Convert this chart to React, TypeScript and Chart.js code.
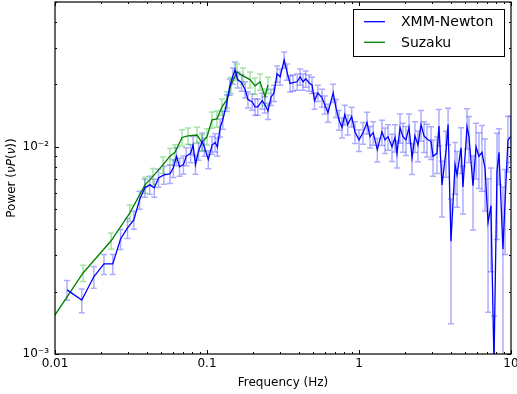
import React, { useEffect, useRef } from 'react';
import { Chart, registerables } from 'chart.js';

Chart.register(...registerables);

const FONT = "'DejaVu Sans', sans-serif";

// ---------- XMM-Newton ----------
const xmmFreq = [
  0.012, 0.015, 0.018, 0.021, 0.024, 0.027, 0.030, 0.033, 0.036, 0.039,
  0.042, 0.045, 0.048, 0.052, 0.057, 0.060, 0.063, 0.066, 0.070, 0.073,
  0.078, 0.081, 0.084, 0.088, 0.093, 0.096, 0.102, 0.108, 0.113, 0.117,
  0.122, 0.127, 0.135, 0.141, 0.148, 0.153, 0.159, 0.169, 0.178, 0.186,
  0.198, 0.207, 0.216, 0.231, 0.240, 0.252, 0.264, 0.276, 0.289, 0.303,
  0.322, 0.336, 0.352, 0.368, 0.392, 0.410, 0.428, 0.446, 0.469, 0.491,
  0.510, 0.536, 0.571, 0.595, 0.625, 0.676, 0.706, 0.738, 0.773, 0.806,
  0.843, 0.895, 0.941, 1.00, 1.062, 1.129, 1.181, 1.24, 1.32, 1.416,
  1.483, 1.552, 1.648, 1.726, 1.778, 1.862, 1.946, 2.038, 2.133, 2.233,
  2.334, 2.444, 2.559, 2.679, 2.801, 2.978, 3.069, 3.26, 3.357, 3.515,
  3.734, 3.855, 4.027, 4.285, 4.416, 4.69, 4.83, 5.137, 5.292, 5.623,
  5.888, 6.152, 6.442, 6.745, 7.063, 7.38, 7.727, 8.09, 8.337, 8.85,
  9.134, 9.55, 9.95,
];
const xmmPower = [
  0.00204, 0.00182, 0.00236, 0.00272, 0.00272, 0.00359, 0.00406, 0.00444, 0.00555, 0.00634,
  0.00655, 0.00634, 0.00708, 0.00732, 0.0074, 0.0079, 0.0090, 0.0080, 0.0082, 0.0090,
  0.0093, 0.0102, 0.0082, 0.00957, 0.0106, 0.0100, 0.0087, 0.0102, 0.0105, 0.0100,
  0.0124, 0.0135, 0.0163, 0.0195, 0.0220, 0.02355, 0.0211, 0.0204, 0.0189, 0.0169,
  0.0165, 0.0156, 0.0156, 0.0167, 0.0160, 0.0149, 0.0174, 0.0182, 0.0225, 0.0218,
  0.0263, 0.0230, 0.0202, 0.0204, 0.0206, 0.0218, 0.0206, 0.0213, 0.0204, 0.0199,
  0.0167, 0.0182, 0.01725, 0.0160, 0.0146, 0.0182, 0.0154, 0.0135, 0.0124, 0.0143,
  0.0128, 0.0140, 0.0118, 0.0108, 0.0117, 0.0131, 0.0112, 0.0117, 0.0097, 0.0118,
  0.0108, 0.0112, 0.0100, 0.0111, 0.0093, 0.0124, 0.0112, 0.0108, 0.0124, 0.00885,
  0.0113, 0.0102, 0.0128, 0.0113, 0.0109, 0.0106, 0.0090, 0.0093, 0.0126, 0.00655,
  0.0095, 0.0128, 0.0035, 0.0082, 0.0073, 0.0099, 0.0064, 0.0125, 0.0112, 0.0065,
  0.0100, 0.0090, 0.0094, 0.0079, 0.0043, 0.0052, 0.0009, 0.0076, 0.0094, 0.0032,
  0.0054, 0.0108, 0.0112,
];
const xmmRelErr = [
  0.11, 0.13, 0.12, 0.11, 0.11, 0.11, 0.11, 0.10, 0.10, 0.10,
  0.10, 0.10, 0.10, 0.10, 0.10, 0.10, 0.10, 0.10, 0.10, 0.10,
  0.10, 0.10, 0.10, 0.10, 0.10, 0.10, 0.10, 0.10, 0.10, 0.10,
  0.10, 0.10, 0.09, 0.09, 0.09, 0.09, 0.09, 0.09, 0.09, 0.09,
  0.09, 0.09, 0.09, 0.09, 0.09, 0.09, 0.09, 0.09, 0.09, 0.09,
  0.09, 0.09, 0.09, 0.09, 0.09, 0.09, 0.09, 0.09, 0.09, 0.09,
  0.09, 0.09, 0.10, 0.10, 0.10, 0.10, 0.10, 0.11, 0.11, 0.11,
  0.11, 0.11, 0.12, 0.12, 0.12, 0.12, 0.12, 0.13, 0.13, 0.14,
  0.14, 0.14, 0.15, 0.15, 0.15, 0.16, 0.16, 0.16, 0.16, 0.17,
  0.17, 0.17, 0.17, 0.17, 0.18, 0.18, 0.20, 0.20, 0.20, 0.30,
  0.25, 0.20, 0.60, 0.28, 0.30, 0.25, 0.26, 0.22, 0.25, 0.39,
  0.30, 0.30, 0.35, 0.38, 0.63, 0.52, 0.70, 0.53, 0.30, 1.00,
  0.44, 0.30, 0.25,
];

// ---------- Suzaku ----------
const suzFreq = [
  0.0088, 0.0153, 0.0234, 0.0311, 0.0391, 0.0441, 0.0514, 0.0571, 0.0616, 0.0685,
  0.0750, 0.0859, 0.0927, 0.100, 0.108, 0.1163, 0.1255, 0.1354, 0.1438, 0.1574,
  0.1725, 0.1919, 0.207, 0.2233, 0.2409, 0.2518,
];
const suzPower = [
  0.00134, 0.00246, 0.00352, 0.00480, 0.00655, 0.0072, 0.0082, 0.0090, 0.0094, 0.0111,
  0.0113, 0.0114, 0.0105, 0.0112, 0.0135, 0.01365, 0.0156, 0.0169, 0.0199, 0.0230,
  0.0220, 0.0211, 0.0197, 0.0206, 0.0174, 0.0199,
];
const suzRelErr = [
  0.09, 0.09, 0.09, 0.09, 0.09, 0.09, 0.09, 0.09, 0.09, 0.09,
  0.09, 0.09, 0.09, 0.09, 0.09, 0.09, 0.09, 0.09, 0.09, 0.09,
  0.09, 0.09, 0.09, 0.09, 0.09, 0.09,
];

// ---------- axes ----------
const xTickValues = [0.01, 0.1, 1, 10];
const xTickLabels = ['0.01', '0.1', '1', '10'];
const yTickValues = [0.001, 0.01];
const yTickLabels = ['10\u207B\u00B3', '10\u207B\u00B2'];
const xRange = [0.01, 10];
const yRange = [0.001, 0.05];
const xTitle = 'Frequency (Hz)';
// y title pieces: [text, italic]
const yTitleParts: [string, boolean][] = [
  ['Power (', false],
  ['\u03BDP', true],
  ['(', false],
  ['\u03BD', true],
  ['))', false],
];

const seriesLabels = ['XMM-Newton', 'Suzaku'];
const lineColors = ['#0000ff', '#008000'];
const errColors = ['rgba(0,0,255,0.32)', 'rgba(0,180,0,0.36)'];

const errorBarPlugin = {
  id: 'errorBars',
  beforeDatasetsDraw(chart: any) {
    const { ctx, chartArea: a, scales } = chart;
    const xs = scales.x;
    const ys = scales.y;
    const errs = [xmmRelErr, suzRelErr];
    ctx.save();
    ctx.beginPath();
    ctx.rect(a.left, a.top, a.right - a.left, a.bottom - a.top);
    ctx.clip();
    ctx.lineWidth = 1.5;
    chart.data.datasets.forEach((ds: any, di: number) => {
      ctx.strokeStyle = errColors[di];
      ds.data.forEach((pt: any, i: number) => {
        const r = errs[di][i];
        const px = xs.getPixelForValue(pt.x);
        const hi = pt.y * (1 + r);
        const lo = pt.y * (1 - r);
        const pyHi = ys.getPixelForValue(hi);
        const pyLo = lo > 0 ? ys.getPixelForValue(lo) : a.bottom + 20;
        ctx.beginPath();
        ctx.moveTo(px, pyHi);
        ctx.lineTo(px, pyLo);
        ctx.moveTo(px - 3, pyHi);
        ctx.lineTo(px + 3, pyHi);
        if (lo > 0) {
          ctx.moveTo(px - 3, pyLo);
          ctx.lineTo(px + 3, pyLo);
        }
        ctx.stroke();
      });
    });
    ctx.restore();
  },
};

function logTicks(min: number, max: number) {
  const out: { v: number; major: boolean }[] = [];
  const e0 = Math.floor(Math.log10(min));
  const e1 = Math.ceil(Math.log10(max));
  for (let e = e0; e <= e1; e++) {
    for (let k = 1; k <= 9; k++) {
      const v = k * Math.pow(10, e);
      if (v >= min * 0.9999 && v <= max * 1.0001) out.push({ v, major: k === 1 });
    }
  }
  return out;
}

const frameTicksPlugin = {
  id: 'frameTicks',
  afterDraw(chart: any) {
    const { ctx, chartArea: a, scales } = chart;
    const xs = scales.x;
    const ys = scales.y;
    ctx.save();
    ctx.strokeStyle = '#000';
    ctx.lineWidth = 1;
    logTicks(xs.min, xs.max).forEach((t) => {
      const px = Math.round(xs.getPixelForValue(t.v)) + 0.5;
      const len = t.major ? 4 : 2;
      ctx.beginPath();
      ctx.moveTo(px, a.bottom);
      ctx.lineTo(px, a.bottom - len);
      ctx.moveTo(px, a.top);
      ctx.lineTo(px, a.top + len);
      ctx.stroke();
    });
    logTicks(ys.min, ys.max).forEach((t) => {
      const py = Math.round(ys.getPixelForValue(t.v)) + 0.5;
      const len = t.major ? 4 : 2;
      ctx.beginPath();
      ctx.moveTo(a.left, py);
      ctx.lineTo(a.left + len, py);
      ctx.moveTo(a.right, py);
      ctx.lineTo(a.right - len, py);
      ctx.stroke();
    });
    ctx.lineWidth = 1.2;
    ctx.strokeRect(a.left, a.top, a.right - a.left, a.bottom - a.top);

    // y-axis title with italic math part
    const normal = `12px ${FONT}`;
    const italic = `italic 12px ${FONT}`;
    let total = 0;
    yTitleParts.forEach(([t, it]) => {
      ctx.font = it ? italic : normal;
      total += ctx.measureText(t).width;
    });
    ctx.translate(12, (a.top + a.bottom) / 2);
    ctx.rotate(-Math.PI / 2);
    ctx.fillStyle = '#000';
    ctx.textBaseline = 'middle';
    ctx.textAlign = 'left';
    let xPos = -total / 2;
    yTitleParts.forEach(([t, it]) => {
      ctx.font = it ? italic : normal;
      ctx.fillText(t, xPos, 0);
      xPos += ctx.measureText(t).width;
    });
    ctx.restore();
  },
};

const legendBoxPlugin = {
  id: 'legendBox',
  afterDraw(chart: any) {
    const { ctx, chartArea: a } = chart;
    const w = 151;
    const h = 47;
    const left = a.right - 7 - w;
    const top = a.top + 7;
    ctx.save();
    ctx.fillStyle = '#ffffff';
    ctx.fillRect(left, top, w, h);
    ctx.strokeStyle = '#000';
    ctx.lineWidth = 1;
    ctx.strokeRect(left + 0.5, top + 0.5, w, h);
    ctx.font = `14px ${FONT}`;
    ctx.textBaseline = 'middle';
    ctx.textAlign = 'left';
    chart.data.datasets.forEach((ds: any, i: number) => {
      const cy = top + 12.7 + i * 20.6;
      ctx.strokeStyle = ds.borderColor;
      ctx.lineWidth = 1.3;
      ctx.beginPath();
      ctx.moveTo(left + 11, cy);
      ctx.lineTo(left + 32, cy);
      ctx.stroke();
      ctx.fillStyle = '#000';
      ctx.fillText(ds.label, left + 48, cy + 1);
    });
    ctx.restore();
  },
};

export default function App() {
  const ref = useRef<HTMLCanvasElement | null>(null);

  useEffect(() => {
    document.body.style.margin = '0';
    const canvas = ref.current;
    if (!canvas) return;
    const chart = new Chart(canvas, {
      type: 'line',
      data: {
        datasets: [
          {
            label: seriesLabels[0],
            data: xmmFreq.map((f, i) => ({ x: f, y: xmmPower[i] })),
            borderColor: lineColors[0],
            borderWidth: 1.3,
            pointRadius: 0,
            fill: false,
            tension: 0,
          },
          {
            label: seriesLabels[1],
            data: suzFreq.map((f, i) => ({ x: f, y: suzPower[i] })),
            borderColor: lineColors[1],
            borderWidth: 1.3,
            pointRadius: 0,
            fill: false,
            tension: 0,
          },
        ],
      },
      options: {
        animation: false,
        responsive: false,
        devicePixelRatio: 1,
        layout: { padding: { top: 2, right: 6, left: 0, bottom: 0 } },
        plugins: {
          legend: { display: false },
          tooltip: { enabled: false },
        },
        scales: {
          x: {
            type: 'logarithmic',
            min: xRange[0],
            max: xRange[1],
            grid: { display: false, drawTicks: false },
            border: { display: false },
            afterBuildTicks: (s: any) => {
              s.ticks = xTickValues.map((v) => ({ value: v }));
            },
            afterFit: (s: any) => {
              s.height = 40;
              s.paddingLeft = 0;
              s.paddingRight = 0;
            },
            ticks: {
              autoSkip: false,
              maxRotation: 0,
              padding: 3,
              color: '#000',
              font: { family: FONT, size: 12 },
              callback: (_v: any, i: number) => xTickLabels[i],
            },
            title: {
              display: true,
              text: xTitle,
              color: '#000',
              font: { family: FONT, size: 12 },
            },
          },
          y: {
            type: 'logarithmic',
            min: yRange[0],
            max: yRange[1],
            grid: { display: false, drawTicks: false },
            border: { display: false },
            afterBuildTicks: (s: any) => {
              s.ticks = yTickValues.map((v) => ({ value: v }));
            },
            afterFit: (s: any) => {
              s.width = 55;
              s.paddingTop = 0;
              s.paddingBottom = 0;
            },
            ticks: {
              autoSkip: false,
              padding: 6,
              color: '#000',
              font: { family: FONT, size: 12 },
              callback: (_v: any, i: number) => yTickLabels[i],
            },
            title: { display: false },
          },
        },
      } as any,
      plugins: [errorBarPlugin, frameTicksPlugin, legendBoxPlugin],
    });
    return () => chart.destroy();
  }, []);

  return (
    <div style={{ width: 517, height: 394 }}>
      <canvas ref={ref} width={517} height={394} style={{ display: 'block' }} />
    </div>
  );
}
